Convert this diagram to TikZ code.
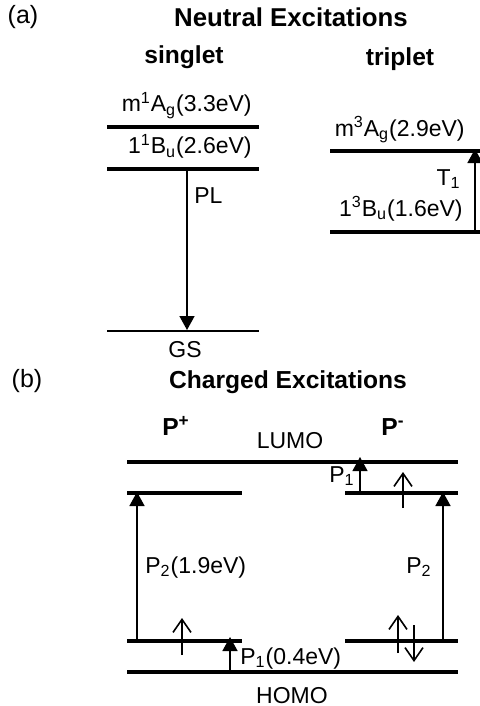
\documentclass[tikz,border=0pt]{standalone}
\usepackage{fontspec}
\setmainfont{Liberation Sans}
\usetikzlibrary{arrows.meta, positioning, calc}
\tikzset{
  level/.style={line width=#1},
  level/.default=2.1pt,
  levtext/.style={inner sep=0pt, font=\fontsize{11.5}{13}\selectfont},
  headtext/.style={inner sep=0pt, font=\fontsize{#1}{14}\selectfont\bfseries},
  headtext/.default=12.3,
  tagtext/.style={inner sep=0pt, font=\fontsize{12.5}{14}\selectfont},
}

\begin{document}
\begin{tikzpicture}[x=0.5pt, y=-0.5pt,
    arr/.style={-{Triangle[width=7.5pt,length=7pt]}, line width=0.8pt},
    spin/.style={-{Straight Barb[width=9pt,length=6.5pt,line width=0.8pt]}, line width=0.8pt}
  ]
  \useasboundingbox (0,0) rectangle (480,706);

  \node[tagtext, anchor=base] (tagA) at (23,24) {(a)};
  \node[headtext=12.9, anchor=base] (titleA) at (291,27) {Neutral Excitations};
  \node[headtext, anchor=base] (singlet) at (184,64) {singlet};
  \node[headtext, anchor=base] (triplet) at (400,66) {triplet};

  \coordinate (s1L) at (107,127); \coordinate (s1R) at (259,127);
  \coordinate (s2L) at (107,169); \coordinate (s2R) at (259,169);
  \coordinate (gsL) at (107,331); \coordinate (gsR) at (259,331);
  \draw[level] (s1L) -- (s1R);
  \draw[level] (s2L) -- (s2R);
  \draw[level=1.4pt] (gsL) -- (gsR);
  \node[levtext, anchor=base east] (m1Ag) at (252,112) {m\textsuperscript{1}A\textsubscript{g}(3.3eV)};
  \node[levtext, anchor=base east] (b1u) at (252,154) {1\textsuperscript{1}B\textsubscript{u}(2.6eV)};
  \node[levtext, anchor=base] (gs) at (185,357) {GS};
  \coordinate (plTop) at (187,169); \coordinate (plBot) at (187,330);
  \draw[arr] (plTop) -- (plBot);
  \node[levtext, anchor=base west] (pl) at (194,203) {PL};

  \coordinate (t1L) at (330,151); \coordinate (t1R) at (480,151);
  \coordinate (t2L) at (330,232); \coordinate (t2R) at (480,232);
  \draw[level] (t1L) -- (t1R);
  \draw[level] (t2L) -- (t2R);
  \node[levtext, anchor=base east] (m3Ag) at (465,136) {m\textsuperscript{3}A\textsubscript{g}(2.9eV)};
  \node[levtext, anchor=base east] (tT1) at (461,185) {T\textsubscript{1}};
  \node[levtext, anchor=base east] (b3u) at (463,216) {1\textsuperscript{3}B\textsubscript{u}(1.6eV)};
  \coordinate (tBot) at (475,232); \coordinate (tTop) at (475,149);
  \draw[arr] (tBot) -- (tTop);

  \node[tagtext, anchor=base] (tagB) at (27,387) {(b)};
  \node[headtext, anchor=base] (titleB) at (288,388) {Charged Excitations};
  \node[headtext, anchor=base] (pplus) at (176,435) {P\textsuperscript{+}};
  \node[headtext, anchor=base] (pminus) at (393,435) {P\textsuperscript{-}};
  \node[levtext, anchor=base] (lumo) at (290,448) {LUMO};
  \node[levtext, anchor=base] (homo) at (292,703) {HOMO};

  \coordinate (lumoL) at (127,462); \coordinate (lumoR) at (458,462);
  \coordinate (upL1) at (127,493); \coordinate (upL2) at (242,493);
  \coordinate (upR1) at (345,493); \coordinate (upR2) at (458,493);
  \coordinate (loL1) at (127,641); \coordinate (loL2) at (242,641);
  \coordinate (loR1) at (345,641); \coordinate (loR2) at (458,641);
  \coordinate (homoL) at (127,672); \coordinate (homoR) at (458,672);
  \draw[level=2.3pt] (lumoL) -- (lumoR);
  \draw[level] (upL1) -- (upL2);
  \draw[level] (upR1) -- (upR2);
  \draw[level] (loL1) -- (loL2);
  \draw[level] (loR1) -- (loR2);
  \draw[level=1.6pt] (homoL) -- (homoR);

  \coordinate (p2lBot) at (137,641); \coordinate (p2lTop) at (137,492);
  \coordinate (p2rBot) at (443,641); \coordinate (p2rTop) at (443,492);
  \coordinate (p1uBot) at (360,493); \coordinate (p1uTop) at (360,457);
  \coordinate (p1lBot) at (230,672); \coordinate (p1lTop) at (230,637);
  \draw[arr] (p2lBot) -- (p2lTop);
  \draw[arr] (p2rBot) -- (p2rTop);
  \draw[arr, line width=0.6pt] (p1uBot) -- (p1uTop);
  \draw[arr] (p1lBot) -- (p1lTop);
  \node[levtext, anchor=base west] (p2l) at (145,573) {P\textsubscript{2}(1.9eV)};
  \node[levtext, anchor=base east] (p2r) at (432,573) {P\textsubscript{2}};
  \node[levtext, anchor=base east] (p1u) at (355,482) {P\textsubscript{1}};
  \node[levtext, anchor=base west] (p1l) at (240,664) {P\textsubscript{1}(0.4eV)};

  \coordinate (sUa) at (403,508); \coordinate (sUb) at (403,472);
  \coordinate (sLa) at (182,655); \coordinate (sLb) at (182,618);
  \coordinate (sRa) at (398,653); \coordinate (sRb) at (398,615);
  \coordinate (sDa) at (414,625); \coordinate (sDb) at (414,662);
  \draw[spin] (sUa) -- (sUb);
  \draw[spin] (sLa) -- (sLb);
  \draw[spin] (sRa) -- (sRb);
  \draw[spin] (sDa) -- (sDb);
\end{tikzpicture}
\end{document}
